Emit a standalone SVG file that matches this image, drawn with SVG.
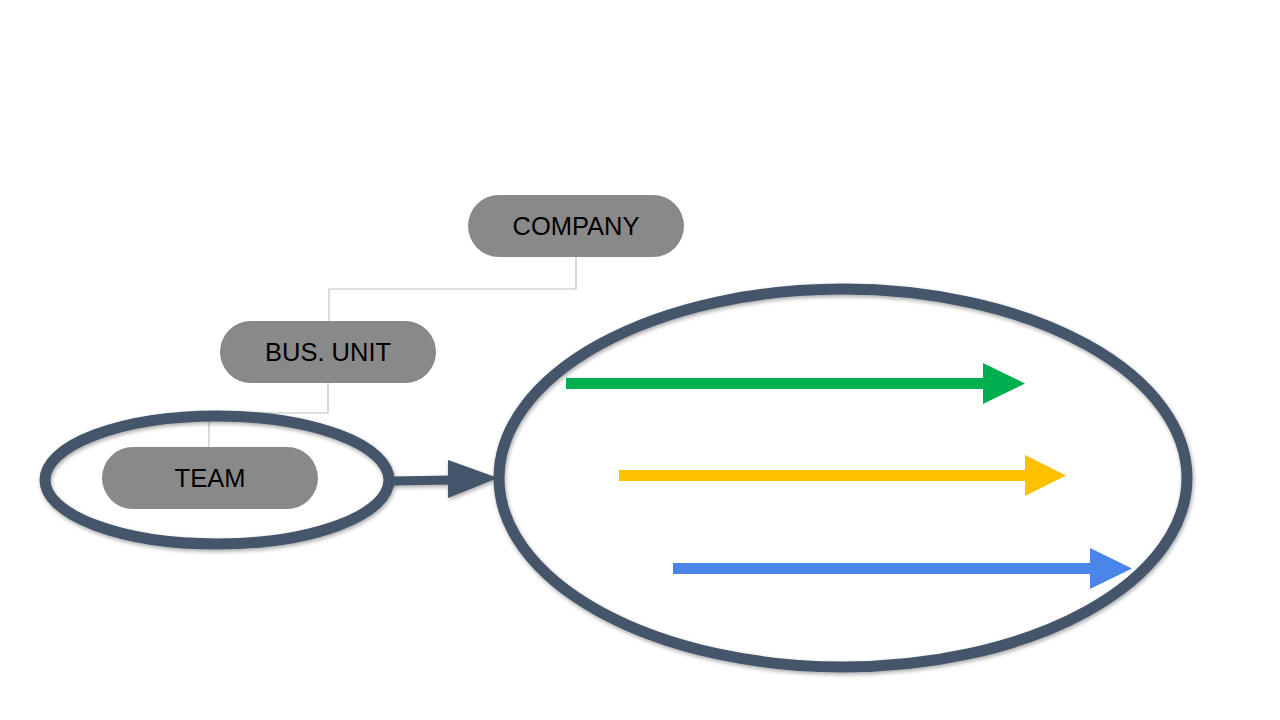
<svg xmlns="http://www.w3.org/2000/svg" width="1280" height="720" viewBox="0 0 1280 720">
<defs>
<style>
.pill{fill:#898989;}
.lbl{font-family:"Liberation Sans",Arial,sans-serif;font-size:25.5px;fill:#000;text-anchor:middle;}
.tree{fill:none;stroke:#c0c0c0;stroke-width:1.2;}
.ring{fill:none;stroke:#44546a;stroke-width:11;}
</style>
<filter id="sh" x="-10%" y="-10%" width="120%" height="120%">
<feGaussianBlur in="SourceAlpha" stdDeviation="2"/>
<feOffset dx="1" dy="2"/>
<feComponentTransfer><feFuncA type="linear" slope="0.35"/></feComponentTransfer>
<feMerge><feMergeNode/><feMergeNode in="SourceGraphic"/></feMerge>
</filter>
</defs>
<rect width="1280" height="720" fill="#fff"/>
<g id="connectors">
<polyline class="tree" points="576,257 576,289 329,289 329,321"/>
<polyline class="tree" points="328,383 328,413 209,413 209,447"/>
</g>
<g id="company">
<rect class="pill" x="468" y="195" width="216" height="62" rx="31"/>
<text class="lbl" x="576" y="235">COMPANY</text>
</g>
<g id="busunit">
<rect class="pill" x="220" y="321" width="216" height="62" rx="31"/>
<text class="lbl" x="328" y="361">BUS. UNIT</text>
</g>
<g id="team">
<rect class="pill" x="102" y="447" width="216" height="62" rx="31"/>
<text class="lbl" x="210" y="487">TEAM</text>
</g>
<g id="small-ring" filter="url(#sh)">
<ellipse class="ring" cx="217" cy="480" rx="172" ry="64"/>
</g>
<g id="zoom-arrow" filter="url(#sh)">
<line x1="392" y1="481" x2="452" y2="480" stroke="#44546a" stroke-width="9"/>
<polygon points="448,460 498,478 448,498" fill="#44546a"/>
</g>
<g id="big-ring" filter="url(#sh)">
<ellipse class="ring" cx="843" cy="478" rx="344" ry="189"/>
</g>
<g id="green-arrow">
<rect x="566" y="378" width="419" height="11" fill="#00b050"/>
<polygon points="983,363 1025,383.5 983,404" fill="#00b050"/>
</g>
<g id="yellow-arrow">
<rect x="619" y="470" width="408" height="11" fill="#ffc000"/>
<polygon points="1025,455 1066,475.5 1025,496" fill="#ffc000"/>
</g>
<g id="blue-arrow">
<rect x="673" y="563" width="419" height="11" fill="#4a86e8"/>
<polygon points="1090,548 1132,568.5 1090,589" fill="#4a86e8"/>
</g>
</svg>
